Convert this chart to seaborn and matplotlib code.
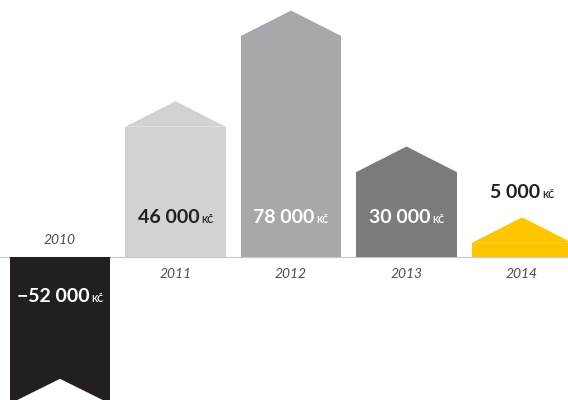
import matplotlib
matplotlib.use('Agg')
import matplotlib.pyplot as plt
import seaborn as sns
from matplotlib.patches import Polygon

# data
years = ['2010', '2011', '2012', '2013', '2014']
values = [-52000, 46000, 78000, 30000, 5000]
labels = ['\u221252 000', '46 000', '78 000', '30 000', '5 000']
colors = ['#231f20', '#d1d2d4', '#a7a8ab', '#7b7b7d', '#ffc600']
label_colors = ['white', '#231f20', 'white', 'white', '#231f20']
label_y = [-15900, 12000, 12000, 12000, 20800]

bar_w = 0.87
roof = 9000  # roof / notch height in data units

sns.set_style('white')
plt.rcParams['font.family'] = ['Lato', 'DejaVu Sans']

fig = plt.figure(figsize=(5.68, 4), dpi=100)
ax = fig.add_axes([0, 0, 1, 1])

ax.axhline(0, color='#c9c9cb', lw=0.9, zorder=0)

sns.barplot(x=years, y=values, hue=years, palette=colors, width=bar_w,
            saturation=1, legend=False, linewidth=0, ax=ax, zorder=2)

for i, v in enumerate(values):
    left, right = i - bar_w / 2, i + bar_w / 2
    if v > 0:
        # house roof on top
        ax.add_patch(Polygon([(left, v), (i, v + roof), (right, v)],
                             closed=True, facecolor=colors[i], lw=0, zorder=2))
    else:
        # notch cut in the bottom
        ax.add_patch(Polygon([(left - 0.01, v), (i, v + roof), (right + 0.01, v)],
                             closed=True, facecolor='white', lw=0, zorder=3))

# value labels with small "Kč"
for i, lab in enumerate(labels):
    num = ax.annotate(lab, xy=(i, label_y[i]), xytext=(-5, 0),
                      textcoords='offset points', ha='center', va='baseline',
                      fontsize=14, fontweight='bold', color=label_colors[i],
                      zorder=5)
    ax.annotate('KČ', xy=(1, label_y[i]), xycoords=(num, 'data'),
                xytext=(1.2, 0), textcoords='offset points', ha='left',
                va='baseline', fontsize=6.5, fontweight='bold',
                color=label_colors[i], zorder=5)

# year labels
for i, yr in enumerate(years):
    y = 5900 if values[i] < 0 else -6000
    ax.text(i, y, yr, ha='center', va='center', fontsize=10,
            style='italic', color='#4d4d4f')

ax.set_xlim(-60 / 115.5, 508 / 115.5)
ax.set_ylim(-143 / 0.002833, 257 / 0.002833)
ax.axis('off')

fig.savefig('out.png', dpi=100)
